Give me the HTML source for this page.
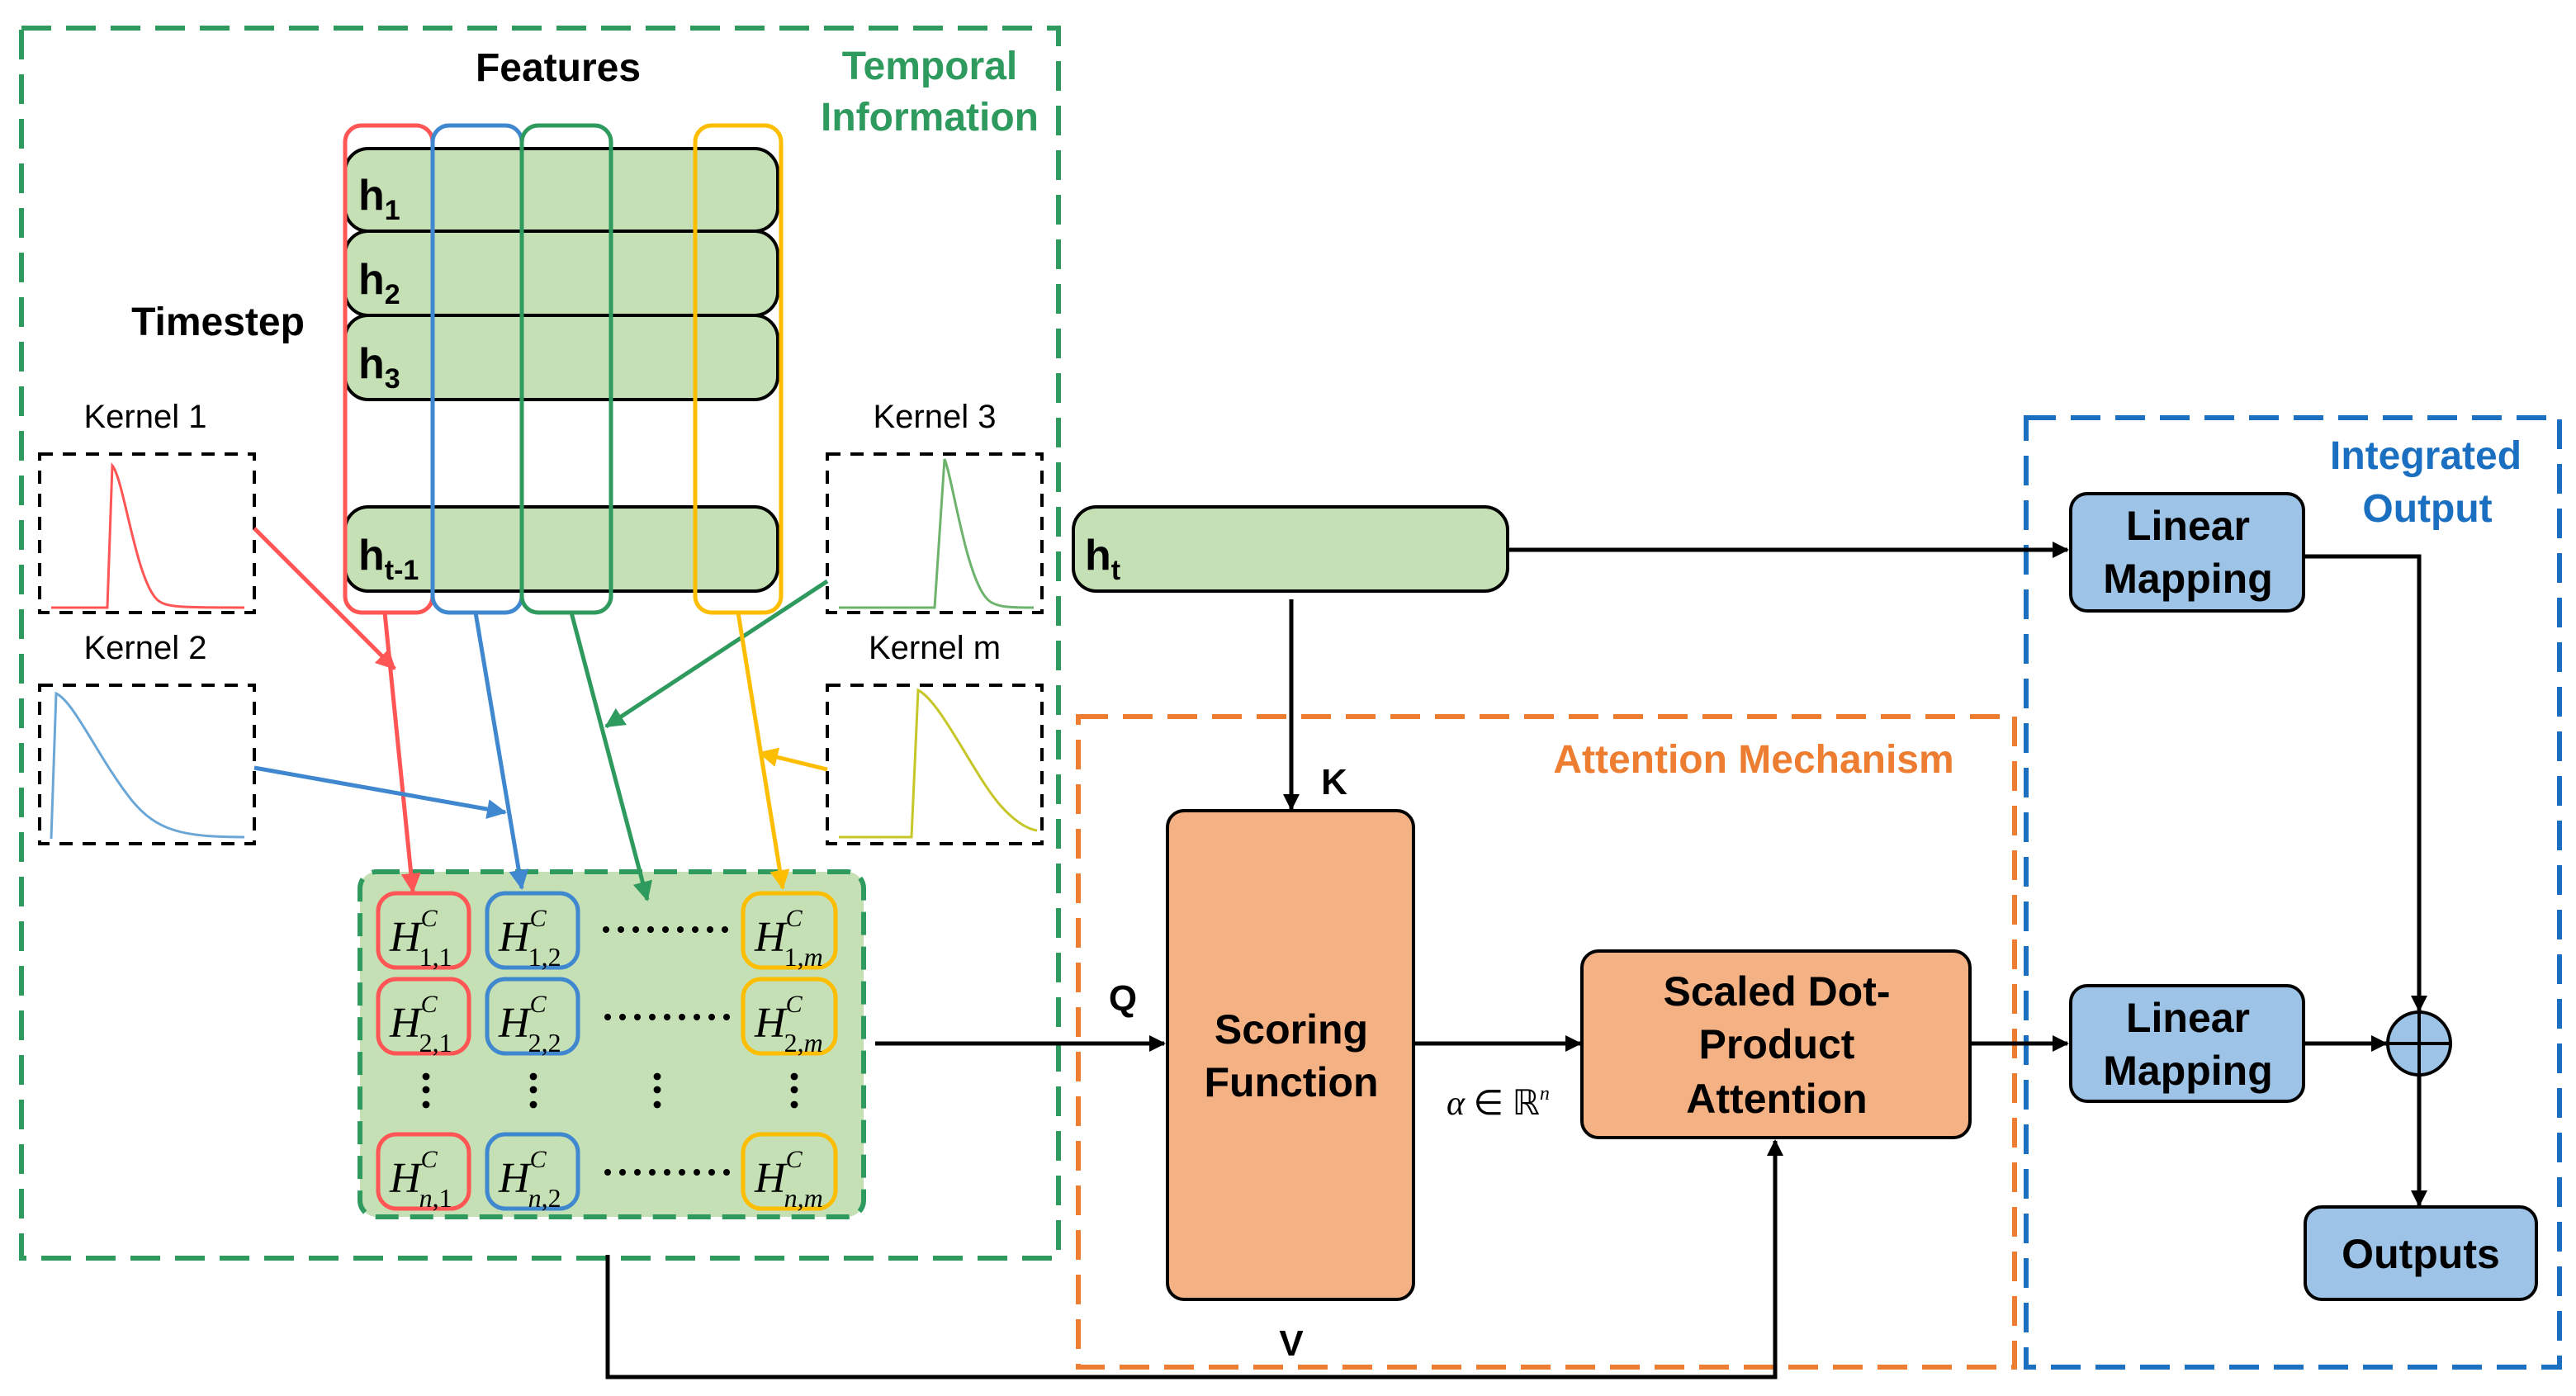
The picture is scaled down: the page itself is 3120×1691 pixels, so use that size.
<!DOCTYPE html>
<html><head><meta charset="utf-8"><style>
html,body{margin:0;padding:0;background:#fff;}
svg{display:block;}
text{font-family:"Liberation Sans",sans-serif;}
.b{font-weight:bold;}
text.m,.m text{font-family:"Liberation Serif",serif;font-style:italic;}
</style></head><body>
<svg width="3120" height="1691" viewBox="0 0 1560 845.5" xmlns="http://www.w3.org/2000/svg">
<defs>
<marker id="ak" markerWidth="10" markerHeight="10" refX="9" refY="5" orient="auto" markerUnits="userSpaceOnUse"><path d="M0,0 L10,5 L0,10 z" fill="#000"/></marker>
<marker id="ar" markerWidth="12" markerHeight="12" refX="11" refY="6" orient="auto" markerUnits="userSpaceOnUse"><path d="M0,0 L12,6 L0,12 z" fill="#f55"/></marker>
<marker id="ab" markerWidth="12" markerHeight="12" refX="11" refY="6" orient="auto" markerUnits="userSpaceOnUse"><path d="M0,0 L12,6 L0,12 z" fill="#3f87cf"/></marker>
<marker id="ag" markerWidth="12" markerHeight="12" refX="11" refY="6" orient="auto" markerUnits="userSpaceOnUse"><path d="M0,0 L12,6 L0,12 z" fill="#2e9a5e"/></marker>
<marker id="ay" markerWidth="12" markerHeight="12" refX="11" refY="6" orient="auto" markerUnits="userSpaceOnUse"><path d="M0,0 L12,6 L0,12 z" fill="#fdbd00"/></marker>
<g id="hd" fill="#000"><circle cx="367" cy="0" r="2"/><circle cx="376" cy="0" r="2"/><circle cx="385" cy="0" r="2"/><circle cx="394" cy="0" r="2"/><circle cx="403" cy="0" r="2"/><circle cx="412" cy="0" r="2"/><circle cx="421" cy="0" r="2"/><circle cx="430" cy="0" r="2"/><circle cx="439" cy="0" r="2"/></g>
</defs>

<!-- green dashed region -->
<rect x="13" y="17" width="628" height="745" fill="none" stroke="#2e9a5e" stroke-width="3" stroke-dasharray="18,9"/>
<text x="338" y="49" font-size="24" class="b" text-anchor="middle">Features</text>
<text x="563" y="48" font-size="24" class="b" fill="#2e9a5e" text-anchor="middle">Temporal</text>
<text x="563" y="79" font-size="24" class="b" fill="#2e9a5e" text-anchor="middle">Information</text>
<text x="132" y="203" font-size="24" class="b" text-anchor="middle">Timestep</text>

<!-- h rows -->
<g fill="#c5e0b4" stroke="#000" stroke-width="2">
<rect x="209" y="90" width="262" height="50" rx="14"/>
<rect x="209" y="140" width="262" height="51" rx="14"/>
<rect x="209" y="191" width="262" height="51" rx="14"/>
<rect x="209" y="307" width="262" height="51" rx="14"/>
</g>
<g font-size="26" class="b">
<text x="217" y="127">h<tspan font-size="17" dy="6">1</tspan></text>
<text x="217" y="178">h<tspan font-size="17" dy="6">2</tspan></text>
<text x="217" y="229">h<tspan font-size="17" dy="6">3</tspan></text>
<text x="217" y="345">h<tspan font-size="17" dy="6">t-1</tspan></text>
</g>
<g fill="none" stroke-width="2.5">
<rect x="209" y="76" width="53" height="295" rx="10" stroke="#f55"/>
<rect x="262" y="76" width="54" height="295" rx="10" stroke="#3f87cf"/>
<rect x="316" y="76" width="54" height="295" rx="10" stroke="#2e9a5e"/>
<rect x="421" y="76" width="52" height="295" rx="10" stroke="#fdbd00"/>
</g>

<!-- kernels -->
<g font-size="20" text-anchor="middle">
<text x="88" y="259">Kernel 1</text>
<text x="88" y="399">Kernel 2</text>
<text x="566" y="259">Kernel 3</text>
<text x="566" y="399">Kernel m</text>
</g>
<g fill="none" stroke="#000" stroke-width="2" stroke-dasharray="8,6">
<rect x="24" y="275" width="130" height="96"/>
<rect x="24" y="415" width="130" height="96"/>
<rect x="501" y="275" width="130" height="96"/>
<rect x="501" y="415" width="130" height="96"/>
</g>
<path d="M31,368 L65,368 L68,282 C75,290 82,350 95,363 C100,368 110,368 148,368" fill="none" stroke="#f55" stroke-width="1.5"/>
<path d="M31,508 L34,420 C45,425 60,460 80,485 C95,503 110,507 148,507" fill="none" stroke="#6aa6d6" stroke-width="1.5"/>
<path d="M508,368 L566,368 L572,278 C577,290 585,350 598,363 C603,368 612,368 626,368" fill="none" stroke="#6db36d" stroke-width="1.5"/>
<path d="M508,507 L552,507 L556,418 C570,425 590,470 606,488 C615,498 622,502 628,503" fill="none" stroke="#c6c628" stroke-width="1.5"/>

<!-- matrix -->
<rect x="218" y="528" width="305" height="209" rx="10" fill="#c5e0b4" stroke="#2e9a5e" stroke-width="3" stroke-dasharray="14,7"/>
<g fill="none" stroke-width="2.5">
<rect x="229" y="541" width="55" height="45" rx="11" stroke="#f55"/>
<rect x="229" y="593" width="55" height="45" rx="11" stroke="#f55"/>
<rect x="229" y="687" width="55" height="45" rx="11" stroke="#f55"/>
<rect x="295" y="541" width="55" height="45" rx="11" stroke="#3f87cf"/>
<rect x="295" y="593" width="55" height="45" rx="11" stroke="#3f87cf"/>
<rect x="295" y="687" width="55" height="45" rx="11" stroke="#3f87cf"/>
<rect x="450" y="541" width="56" height="45" rx="11" stroke="#fdbd00"/>
<rect x="450" y="593" width="56" height="45" rx="11" stroke="#fdbd00"/>
<rect x="450" y="687" width="56" height="45" rx="11" stroke="#fdbd00"/>
</g>
<g class="m" font-size="26">
<text x="236" y="576">H<tspan font-size="15" dx="0" dy="-15">C</tspan><tspan font-size="16" font-style="normal" dx="-11" dy="24">1,1</tspan></text>
<text x="302" y="576">H<tspan font-size="15" dx="0" dy="-15">C</tspan><tspan font-size="16" font-style="normal" dx="-11" dy="24">1,2</tspan></text>
<text x="457" y="576">H<tspan font-size="15" dx="0" dy="-15">C</tspan><tspan font-size="16" dx="-11" dy="24"><tspan font-style="normal">1,</tspan>m</tspan></text>
<text x="236" y="628">H<tspan font-size="15" dx="0" dy="-15">C</tspan><tspan font-size="16" font-style="normal" dx="-11" dy="24">2,1</tspan></text>
<text x="302" y="628">H<tspan font-size="15" dx="0" dy="-15">C</tspan><tspan font-size="16" font-style="normal" dx="-11" dy="24">2,2</tspan></text>
<text x="457" y="628">H<tspan font-size="15" dx="0" dy="-15">C</tspan><tspan font-size="16" dx="-11" dy="24"><tspan font-style="normal">2,</tspan>m</tspan></text>
<text x="236" y="722">H<tspan font-size="15" dx="0" dy="-15">C</tspan><tspan font-size="16" dx="-11" dy="24">n<tspan font-style="normal">,1</tspan></tspan></text>
<text x="302" y="722">H<tspan font-size="15" dx="0" dy="-15">C</tspan><tspan font-size="16" dx="-11" dy="24">n<tspan font-style="normal">,2</tspan></tspan></text>
<text x="457" y="722">H<tspan font-size="15" dx="0" dy="-15">C</tspan><tspan font-size="16" dx="-11" dy="24">n,m</tspan></text>
</g>
<use href="#hd" transform="translate(0,563)"/>
<use href="#hd" transform="translate(1,616)"/>
<use href="#hd" transform="translate(1,710)"/>
<g fill="#000">
<circle cx="258" cy="652" r="2.2"/><circle cx="258" cy="660" r="2.2"/><circle cx="258" cy="669" r="2.2"/>
<circle cx="323" cy="652" r="2.2"/><circle cx="323" cy="660" r="2.2"/><circle cx="323" cy="669" r="2.2"/>
<circle cx="398" cy="652" r="2.2"/><circle cx="398" cy="660" r="2.2"/><circle cx="398" cy="669" r="2.2"/>
<circle cx="481" cy="652" r="2.2"/><circle cx="481" cy="660" r="2.2"/><circle cx="481" cy="669" r="2.2"/>
</g>

<!-- colored arrows -->
<g stroke-width="2.5" fill="none">
<line x1="154" y1="320" x2="239" y2="405" stroke="#f55" marker-end="url(#ar)"/>
<line x1="233" y1="371" x2="250" y2="540" stroke="#f55" marker-end="url(#ar)"/>
<line x1="288" y1="371" x2="316" y2="538" stroke="#3f87cf" marker-end="url(#ab)"/>
<line x1="154" y1="465" x2="306" y2="492" stroke="#3f87cf" marker-end="url(#ab)"/>
<line x1="346" y1="371" x2="392" y2="545" stroke="#2e9a5e" marker-end="url(#ag)"/>
<line x1="501" y1="352" x2="367" y2="440" stroke="#2e9a5e" marker-end="url(#ag)"/>
<line x1="447" y1="371" x2="474" y2="538" stroke="#fdbd00" marker-end="url(#ay)"/>
<line x1="501" y1="466" x2="460" y2="456" stroke="#fdbd00" marker-end="url(#ay)"/>
</g>

<!-- ht -->
<rect x="650" y="307" width="263" height="51" rx="14" fill="#c5e0b4" stroke="#000" stroke-width="2"/>
<text x="657" y="345" font-size="26" class="b">h<tspan font-size="17" dy="6">t</tspan></text>

<!-- orange region -->
<rect x="653" y="434" width="567" height="394" fill="none" stroke="#ed7d31" stroke-width="3" stroke-dasharray="18,9"/>
<text x="1062" y="468" font-size="24" class="b" fill="#ed7d31" text-anchor="middle">Attention Mechanism</text>
<rect x="707" y="491" width="149" height="296" rx="10" fill="#f4b183" stroke="#000" stroke-width="2"/>
<text x="782" y="632" font-size="25" class="b" text-anchor="middle">Scoring</text>
<text x="782" y="664" font-size="25" class="b" text-anchor="middle">Function</text>
<rect x="958" y="576" width="235" height="113" rx="10" fill="#f4b183" stroke="#000" stroke-width="2"/>
<text x="1076" y="609" font-size="25" class="b" text-anchor="middle">Scaled Dot-</text>
<text x="1076" y="641" font-size="25" class="b" text-anchor="middle">Product</text>
<text x="1076" y="674" font-size="25" class="b" text-anchor="middle">Attention</text>
<text x="808" y="481" font-size="22" class="b" text-anchor="middle">K</text>
<text x="680" y="612" font-size="22" class="b" text-anchor="middle">Q</text>
<text x="782" y="821" font-size="22" class="b" text-anchor="middle">V</text>
<text x="876" y="675" font-size="21" class="m">α<tspan font-style="normal"> ∈ ℝ</tspan><tspan font-size="12" dy="-9">n</tspan></text>

<!-- blue region -->
<rect x="1227" y="253" width="323" height="575" fill="none" stroke="#1a6fc0" stroke-width="3" stroke-dasharray="18,9"/>
<text x="1469" y="284" font-size="24" class="b" fill="#1a6fc0" text-anchor="middle">Integrated</text>
<text x="1470" y="316" font-size="24" class="b" fill="#1a6fc0" text-anchor="middle">Output</text>
<rect x="1254" y="299" width="141" height="71" rx="10" fill="#9dc3e6" stroke="#000" stroke-width="2"/>
<text x="1325" y="327" font-size="25" class="b" text-anchor="middle">Linear</text>
<text x="1325" y="359" font-size="25" class="b" text-anchor="middle">Mapping</text>
<rect x="1254" y="597" width="141" height="70" rx="10" fill="#9dc3e6" stroke="#000" stroke-width="2"/>
<text x="1325" y="625" font-size="25" class="b" text-anchor="middle">Linear</text>
<text x="1325" y="657" font-size="25" class="b" text-anchor="middle">Mapping</text>
<rect x="1396" y="731" width="140" height="56" rx="10" fill="#9dc3e6" stroke="#000" stroke-width="2"/>
<text x="1466" y="768" font-size="25" class="b" text-anchor="middle">Outputs</text>
<circle cx="1465" cy="632" r="19" fill="#9dc3e6" stroke="#000" stroke-width="2"/>
<line x1="1446" y1="632" x2="1484" y2="632" stroke="#000" stroke-width="2"/>
<line x1="1465" y1="613" x2="1465" y2="651" stroke="#000" stroke-width="2"/>

<!-- black connectors -->
<g stroke="#000" stroke-width="2.5" fill="none">
<line x1="913" y1="333" x2="1252" y2="333" marker-end="url(#ak)"/>
<line x1="782" y1="363" x2="782" y2="490" marker-end="url(#ak)"/>
<line x1="530" y1="632" x2="705" y2="632" marker-end="url(#ak)"/>
<line x1="856" y1="632" x2="957" y2="632" marker-end="url(#ak)"/>
<line x1="1193" y1="632" x2="1252" y2="632" marker-end="url(#ak)"/>
<line x1="1395" y1="632" x2="1445" y2="632" marker-end="url(#ak)"/>
<polyline points="1395,337 1465,337 1465,612" marker-end="url(#ak)"/>
<line x1="1465" y1="651" x2="1465" y2="730" marker-end="url(#ak)"/>
<polyline points="368,760 368,834 1075,834 1075,691" marker-end="url(#ak)"/>
</g>
</svg>
</body></html>
